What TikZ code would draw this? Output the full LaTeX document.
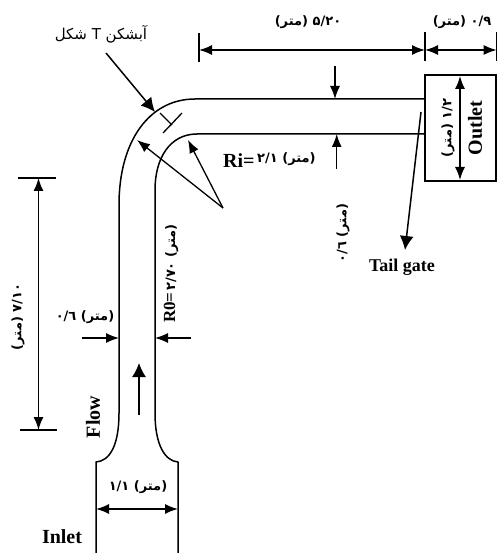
\documentclass[tikz,border=0pt]{standalone}
\usepackage{fontspec}
\setmainfont{Liberation Serif}
\newfontfamily\arabicfont[Script=Arabic]{DejaVu Sans}
\TeXXeTstate=1
\usetikzlibrary{arrows.meta}
% number on the right of the unit
\newcommand{\dimtxt}[1]{\arabicfont\bfseries\fontsize{13}{15}\selectfont\beginR\beginL #1\endL{} (متر)\endR}
% number on the left of the unit
\newcommand{\dimtxtb}[1]{\arabicfont\bfseries\fontsize{13}{15}\selectfont\beginR(متر) \beginL #1\endL\endR}
\tikzset{
  wall/.style={line width=1.5pt,line join=round},
  dimline/.style={line width=1.5pt,{Latex[length=13pt,width=10pt]}-{Latex[length=13pt,width=10pt]}},
  pointer/.style={line width=1.3pt,-{Latex[length=13pt,width=10pt]}},
  bigpointer/.style={line width=1.5pt,-{Latex[length=14pt,width=14pt]}},
  tick/.style={line width=1.3pt},
  lab/.style={inner sep=0pt,font=\bfseries\fontsize{20}{22}\selectfont},
  dimlab/.style={inner sep=0pt}
}
\begin{document}
\begin{tikzpicture}[x=1pt,y=-1pt]
\useasboundingbox (0,0) rectangle (498,553);
% channel
\draw[wall] (96,553) -- (96,462) .. controls (110,461) and (119,445) .. (119,413) -- (119,205)
  .. controls (119,140) and (150,99) .. (195,99) -- (425,99);
\draw[wall] (178,553) -- (178,462) .. controls (165,461) and (155,445) .. (155,413) -- (155,190)
  .. controls (155,158) and (170,134) .. (197,134) -- (425,134);
\node[draw,line width=1.5pt,minimum width=71pt,minimum height=106pt,inner sep=0pt] (box) at (460.5,128) {};
% T gate
\coordinate (Ta) at (160,113); \coordinate (Tb) at (172,125);
\coordinate (Tc) at (163,133); \coordinate (Td) at (182,113);
\draw[tick] (Ta) -- (Tb); \draw[tick] (Tc) -- (Td);
\node[dimlab,font=\arabicfont\fontsize{15}{17}\selectfont] (tlabel) at (101,34) {\beginR آبشکن \beginL T\endL{} شکل\endR};
\coordinate (Tfrom) at (106,53); \coordinate (Tto) at (155,112);
\draw[bigpointer] (Tfrom) -- (Tto);
% radius pointers
\coordinate (R) at (223,208); \coordinate (R1) at (137,140); \coordinate (R2) at (188,140);
\draw[pointer] (R) -- (R1);
\draw[pointer] (R) -- (R2);
% top dimensions
\coordinate (t1a) at (199,33); \coordinate (t1b) at (199,62);
\coordinate (t2a) at (425,32); \coordinate (t2b) at (425,61);
\coordinate (t3a) at (496.7,32); \coordinate (t3b) at (496.7,61);
\coordinate (d1) at (199,50); \coordinate (d2) at (425,50); \coordinate (d3) at (496.7,50);
\draw[tick] (t1a) -- (t1b); \draw[tick] (t2a) -- (t2b); \draw[tick] (t3a) -- (t3b);
\draw[dimline] (d1) -- (d2);
\draw[dimline] (d2) -- (d3);
\node[dimlab] (l520) at (308,22) {\dimtxt{۵/۲۰}};
\node[dimlab] (l09) at (462,22) {\dimtxt{۰/۹}};
% width pointers
\coordinate (wa) at (335,66); \coordinate (wb) at (335,99);
\coordinate (wc) at (336.7,169); \coordinate (wd) at (336.7,134);
\draw[pointer] (wa) -- (wb);
\draw[pointer] (wc) -- (wd);
\node[dimlab,rotate=90] (l06b) at (343,233) {\dimtxtb{٠/٦}};
% outlet
\coordinate (oa) at (460,76); \coordinate (ob) at (460,180);
\draw[dimline] (oa) -- (ob);
\node[lab,rotate=90] (outlet) at (475,128) {Outlet};
\node[dimlab,rotate=90] (l12) at (448,128) {\dimtxt{۱/۲}};
% tail gate
\coordinate (ga) at (421,112); \coordinate (gb) at (405,250);
\draw[bigpointer] (ga) -- (gb);
\node[lab,font=\bfseries\fontsize{18}{20}\selectfont] (tail) at (402,267) {Tail gate};
% Ri
\node[lab,anchor=west] (ri) at (223,161) {Ri=};
\node[dimlab,anchor=west] (l21) at (257,159) {\dimtxtb{۲/۱}};
% Ro
\node[dimlab,rotate=90,anchor=west] (ro) at (171,323) {\textbf{\fontsize{17}{19}\selectfont R0=}\,\dimtxtb{۲/۷۰}};
% left dimension
\coordinate (la) at (18,178); \coordinate (lb) at (56,178);
\coordinate (lc) at (20,430); \coordinate (ld) at (57,430);
\coordinate (le) at (38.5,178); \coordinate (lf) at (38.5,430);
\draw[tick] (la) -- (lb); \draw[tick] (lc) -- (ld);
\draw[dimline] (le) -- (lf);
\node[dimlab,rotate=90] (l710) at (18,317) {\dimtxt{۷/۱۰}};
% 0.6 throat
\coordinate (ca) at (82,338); \coordinate (cb) at (119,338);
\coordinate (cc) at (191,338); \coordinate (cd) at (155,338);
\draw[pointer] (ca) -- (cb);
\draw[pointer] (cc) -- (cd);
\node[dimlab] (l06a) at (85,317) {\dimtxtb{٠/٦}};
% flow
\coordinate (fa) at (139,415); \coordinate (fb) at (139,363);
\draw[bigpointer] (fa) -- (fb);
\node[lab,rotate=90] (flow) at (93,417) {Flow};
% inlet
\coordinate (ia) at (96,509); \coordinate (ib) at (178,509);
\draw[dimline] (ia) -- (ib);
\node[dimlab] (l11) at (138,487) {\dimtxtb{۱/۱}};
\node[lab] (inlet) at (62,537) {Inlet};
\end{tikzpicture}
\end{document}
